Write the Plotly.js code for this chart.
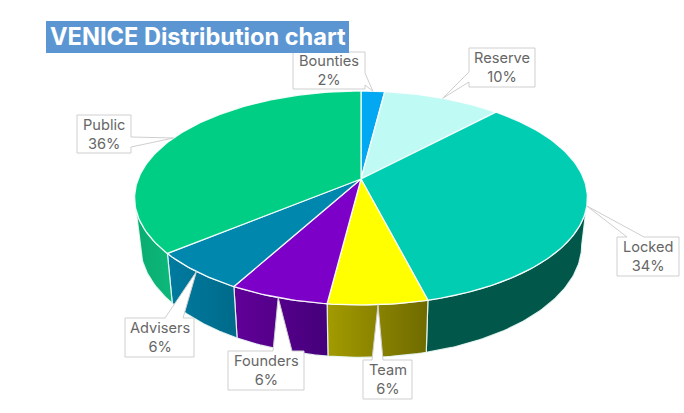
<!DOCTYPE html>
<html>
<head>
<meta charset="utf-8">
<script src="https://cdn.plot.ly/plotly-3.0.1.min.js"></script>
<style>html,body{margin:0;padding:0;background:#fff}#chart{width:684px;height:413px}</style>
</head>
<body>
<div id="chart"></div>
<script>
// Data, clockwise from 12 o'clock
const categories = ['Bounties', 'Reserve', 'Locked', 'Team', 'Founders', 'Advisers', 'Public'];
const values = [2, 10, 34, 6, 6, 6, 36];
const chartTitle = 'VENICE Distribution chart';

// Styles
const topColors = ['#02A9F2', '#C0FAF4', '#00CDB2', '#FFFF00', '#7C00C8', '#0087AE', '#00CE84'];
const sideColors = [null, null, ['#00574A', '#00574A'], ['#A39B00', '#6F6A00'],
                    ['#610098', '#45007A'], ['#007BA0', '#006A8A'], ['#0AAB70', '#0DB87A']];
// Callout boxes in pixels: left, top, right, bottom, and the wedge's base (side, from, to)
const callouts = {
  Bounties: {box: [293, 52, 365, 89],  base: ['right', 73, 85]},
  Reserve:  {box: [469, 48, 535, 87],  base: ['left', 72, 82]},
  Locked:   {box: [617, 237, 679, 276], base: ['top', 627, 644]},
  Team:     {box: [363, 360, 412, 399], base: ['top', 372, 383]},
  Founders: {box: [228, 351, 304, 390], base: ['top', 273, 292]},
  Advisers: {box: [125, 318, 194, 357], base: ['top', 165, 183]},
  Public:   {box: [77, 115, 131, 153],  base: ['right', 137, 147]}
};

// Perspective projection of the pie disc onto the page
const CX = 361, CY = 179, A = 222.8, B = 103.6, K = 0.1776;
const BOTTOM_SCALE = 0.975, DEPTH = 45.7;
function project(deg, scale, depth) {
  const t = deg * Math.PI / 180, u = Math.sin(t), v = -Math.cos(t), w = 1 / (1 - K * v);
  return [CX + scale * A * u * w, CY + (scale * B * v + depth) * w];
}
const rimTop = d => project(d, 1, 0);
const rimBottom = d => project(d, BOTTOM_SCALE, DEPTH);
function arc(fn, a0, a1) {
  const n = Math.max(2, Math.ceil(Math.abs(a1 - a0))), out = [];
  for (let i = 0; i <= n; i++) out.push(fn(a0 + (a1 - a0) * i / n));
  return out;
}
const total = values.reduce((a, b) => a + b, 0);
let acc = 0;
const slices = categories.map((name, i) => {
  const start = acc / total * 360; acc += values[i];
  const end = acc / total * 360;
  return {name, i, start, end, mid: (start + end) / 2};
});
const xy = pts => ({x: pts.map(p => p[0]), y: pts.map(p => p[1])});
const traces = [];

// Visible side wall: runs between the disc's left and right silhouette points
const SIDE_MIN = Math.acos(-K) * 180 / Math.PI, SIDE_MAX = 360 - SIDE_MIN;
slices.forEach(s => {
  const a0 = Math.max(s.start, SIDE_MIN), a1 = Math.min(s.end, SIDE_MAX);
  if (a1 <= a0 || !sideColors[s.i]) return;
  const pts = arc(rimTop, a0, a1).concat(arc(rimBottom, a1, a0));
  pts.push(pts[0]);
  const c = sideColors[s.i];
  traces.push(Object.assign(xy(pts), {
    type: 'scatter', mode: 'lines', fill: 'toself', name: s.name + ' side',
    line: {color: 'rgba(235,250,245,0.9)', width: 1.2},
    fillgradient: {type: 'horizontal', colorscale: [[0, c[0]], [1, c[1]]]},
    hoverinfo: 'skip', showlegend: false
  }));
});

// Top faces
slices.forEach(s => {
  const pts = [[CX, CY]].concat(arc(rimTop, s.start, s.end)); pts.push([CX, CY]);
  traces.push(Object.assign(xy(pts), {
    type: 'scatter', mode: 'lines', fill: 'toself', name: s.name,
    fillcolor: topColors[s.i],
    line: {color: 'rgba(255,255,255,0.9)', width: 1.3},
    text: s.name + ': ' + values[s.i] + '%', hoverinfo: 'text', showlegend: false
  }));
});

// Callouts: box + wedge drawn as one outline, tip on the rim at the slice's middle
const annotations = [];
slices.forEach(s => {
  const c = callouts[s.name], [l, t, r, b] = c.box, [side, p, q] = c.base, tip = rimTop(s.mid);
  let pts;
  if (side === 'top') pts = [[l,t],[p,t],tip,[q,t],[r,t],[r,b],[l,b],[l,t]];
  else if (side === 'right') pts = [[l,t],[r,t],[r,p],tip,[r,q],[r,b],[l,b],[l,t]];
  else pts = [[l,t],[r,t],[r,b],[l,b],[l,q],tip,[l,p],[l,t]];
  traces.push(Object.assign(xy(pts), {
    type: 'scatter', mode: 'lines', fill: 'toself', fillcolor: '#ffffff',
    line: {color: '#cfcfcf', width: 1}, hoverinfo: 'skip', showlegend: false, name: s.name + ' label'
  }));
  annotations.push({
    x: (l + r) / 2, y: (t + b) / 2, xref: 'x', yref: 'y', showarrow: false,
    text: s.name + '<br>' + values[s.i] + '%',
    font: {family: 'Inter, sans-serif', size: 14.6, color: '#666666'}, align: 'center'
  });
});

const layout = {
  width: 684, height: 413,
  margin: {l: 0, r: 0, t: 0, b: 0},
  paper_bgcolor: '#fff', plot_bgcolor: '#fff', showlegend: false,
  xaxis: {range: [0, 684], visible: false, fixedrange: true},
  yaxis: {range: [413, 0], visible: false, fixedrange: true},
  title: {
    text: chartTitle, x: 50 / 684, xanchor: 'left', xref: 'paper',
    y: 1 - 37 / 413, yanchor: 'middle', yref: 'paper',
    font: {family: 'Inter, sans-serif', size: 23.6, color: '#ffffff', weight: 700}
  },
  shapes: [{type: 'rect', xref: 'x', yref: 'y', x0: 46, x1: 349, y0: 21, y1: 53,
            fillcolor: '#5B96D3', line: {width: 0}, layer: 'above'}],
  annotations
};
Plotly.newPlot('chart', traces, layout, {displayModeBar: false});
</script>
</body>
</html>
